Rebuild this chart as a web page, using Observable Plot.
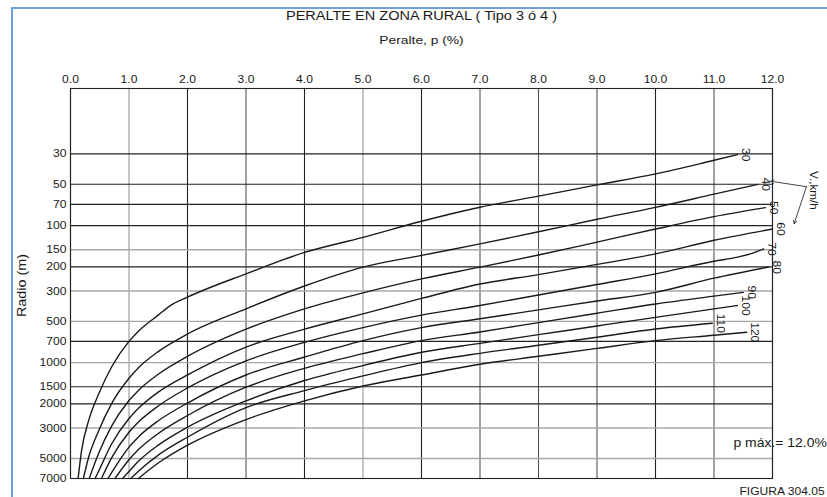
<!DOCTYPE html>
<html>
<head>
<meta charset="utf-8">
<script src="https://cdn.jsdelivr.net/npm/d3@7"></script>
<script src="https://cdn.jsdelivr.net/npm/@observablehq/plot@0.6"></script>
<style>
  body { margin: 0; background: #fff; font-family: "Liberation Sans", Arial, sans-serif; }
  #wrap { position: relative; width: 827px; height: 497px; overflow: hidden; background: #fff; }
  #wrap svg { position: absolute; left: 0; top: 0; }
  #edge { position: absolute; left: 11px; top: 7px; width: 900px; height: 600px;
          border-left: 2px solid #6f9fd6; border-top: 2px solid #6f9fd6; pointer-events: none; }
</style>
</head>
<body>
<div id="wrap"></div>
<script>
// Superelevation p (%) against curve radius R (m), one curve per design speed (km/h)
const speeds = [30, 40, 50, 60, 70, 80, 90, 100, 110, 120];

const v30 = [[0.13,7000],[0.19,4370],[0.31,2650],[0.48,1700],[0.7,1080],[1.0,700],[1.17,585],[1.5,450],[1.7,385],[2,333],[3,225],[4,157],[5,122],[6,93],[7,73.5],[8,61],[9,50.5],[10,42],[11,33.4],[11.4,30.4]];
const v40 = [[0.22,7000],[0.31,4900],[0.48,3150],[0.7,2000],[1,1300],[1.17,1080],[1.5,830],[2,618],[3,405],[4,276],[5,201],[6,165],[7,136],[8,111],[9,90],[10,73.6],[11,59],[11.75,50]];
const v50 = [[0.32,7000],[0.48,4600],[0.7,2920],[1,1890],[1.17,1580],[1.5,1215],[2,900],[3,570],[4,405],[5,310],[6,245],[7,201],[8,164],[9,132],[10,106],[11,86],[11.88,74]];
const v60 = [[0.42,7000],[0.48,6200],[0.7,3940],[1,2555],[1.17,2135],[1.5,1640],[2,1230],[3,770],[4,570],[5,441],[6,340],[7,267],[8,228],[9,192],[10,161],[11,128],[12,106]];
const v70 = [[0.53,7000],[0.7,4970],[1,3220],[1.17,2690],[1.5,2070],[2,1530],[3,970],[4,711],[5,555],[6,450],[7,383],[8,321],[9,269],[10,225],[11,182],[11.4,170],[11.62,161],[11.85,148]];
const v80 = [[0.64,7000],[0.7,6370],[1,4130],[1.17,3450],[1.5,2655],[2,1970],[3,1230],[4,910],[5,690],[6,555],[7,478],[8,412],[9,355],[10,307],[11,242],[11.93,201]];
const v90 = [[0.76,7000],[1,5110],[1.17,4270],[1.5,3285],[2,2430],[3,1510],[4,1100],[5,860],[6,690],[7,597],[8,510],[9,436],[10,373],[11,327],[11.5,307]];
const v100 = [[0.89,7000],[1,6230],[1.17,5200],[1.5,4000],[2,2960],[3,1900],[4,1350],[5,1050],[6,840],[7,723],[8,625],[9,540],[10,467],[11,405],[11.4,383]];
const v110 = [[1.03,7000],[1.17,6140],[1.5,4725],[2,3500],[3,2130],[4,1600],[5,1250],[6,1000],[7,855],[8,747],[9,652],[10,568],[10.97,516]];
const v120 = [[1.16,7000],[1.5,5400],[2,4000],[3,2600],[4,1900],[5,1480],[6,1230],[7,1027],[8,899],[9,787],[10,691],[11,631],[11.56,600]];

const curves = [v30, v40, v50, v60, v70, v80, v90, v100, v110, v120];

// Axis ticks
const pTicks = [0, 1, 2, 3, 4, 5, 6, 7, 8, 9, 10, 11, 12];
const rTicks = [30, 50, 70, 100, 150, 200, 300, 500, 700, 1000, 1500, 2000, 3000, 5000, 7000];

// Texts
const title = "PERALTE EN ZONA RURAL ( Tipo 3 ó 4 )";
const xTitle = "Peralte, p (%)";
const yTitle = "Radio (m)";
const pMaxNote = "p máx.= 12.0%";
const figureNote = "FIGURA 304.05";
const speedKeyText = "V.,km/h";

// Key pointing at the speed labels (p, R)
const speedKey = {p: 12.58, r: 52};
const speedKeyTargets = [{p: 11.97, r: 47.5}, {p: 12.37, r: 97}];

const rows = speeds.flatMap((v, i) => curves[i].map(([p, r]) => ({v, p, r})));
const ends = speeds.map((v, i) => {
  const c = curves[i];
  const [p, r] = c[c.length - 1];
  return {v, p, r};
});

const lightP = new Set([1, 5]);
const midP = new Set([3, 7, 8, 9, 11]);
const lightR = new Set([150, 300, 500, 1000, 3000, 5000]);

const ink = "#1a1a1a";
const centered = {textAnchor: "middle", lineAnchor: "middle", fill: ink};

const chart = Plot.plot({
  width: 827,
  height: 497,
  marginLeft: 70,
  marginRight: 55,
  marginTop: 88,
  marginBottom: 19,
  style: {fontFamily: "'Liberation Sans', Arial, sans-serif", fontSize: "11px", color: ink, background: "transparent", overflow: "visible"},
  x: {domain: [0, 12], axis: null},
  y: {type: "log", domain: [10, 7000], reverse: true, axis: null},
  marks: [
    Plot.ruleX(pTicks.filter(d => lightP.has(d)), {stroke: "#a0a0a0", strokeWidth: 1.2}),
    Plot.ruleX(pTicks.filter(d => midP.has(d)), {stroke: "#555", strokeWidth: 1.1}),
    Plot.ruleX(pTicks.filter(d => !lightP.has(d) && !midP.has(d)), {stroke: "#222", strokeWidth: 1.1}),
    Plot.ruleY(rTicks.filter(d => lightR.has(d)), {stroke: "#a8a8a8", strokeWidth: 1.4}),
    Plot.ruleY(rTicks.filter(d => !lightR.has(d)), {stroke: "#222", strokeWidth: 1.1}),
    Plot.frame({stroke: "#222", strokeWidth: 1.1}),
    // tick labels
    Plot.text(pTicks, {x: d => d, frameAnchor: "top", dy: -9, text: d => d.toFixed(1), ...centered}),
    Plot.text(rTicks, {y: d => d, frameAnchor: "left", dx: -4, text: d => String(d), ...centered, textAnchor: "end"}),
    // speed curves
    Plot.line(rows, {x: "p", y: "r", z: "v", stroke: ink, strokeWidth: 1.4, curve: "monotone-x"}),
    Plot.text(ends, {x: "p", y: "r", text: d => String(d.v), rotate: 90, dx: 8, fontSize: 11, ...centered}),
    Plot.arrow(speedKeyTargets, {x1: () => speedKey.p, y1: () => speedKey.r, x2: "p", y2: "r", stroke: "#333", strokeWidth: 0.9, headLength: 6}),
    Plot.text([speedKeyText], {frameAnchor: "top-right", dx: 41, dy: 102, rotate: 90, fontSize: 11, ...centered}),
    // titles and notes
    Plot.text([title], {frameAnchor: "top", dy: -72, fontSize: 12, ...centered}),
    Plot.text([xTitle], {frameAnchor: "top", dy: -48.5, fontSize: 11.5, ...centered}),
    Plot.text([yTitle], {frameAnchor: "left", dx: -48, dy: 2, rotate: -90, fontSize: 12, ...centered}),
    Plot.text([pMaxNote], {frameAnchor: "bottom-right", dx: -39, dy: -35, fontSize: 12, ...centered, textAnchor: "start"}),
    Plot.text([figureNote], {frameAnchor: "bottom-right", dx: -33, dy: 13, fontSize: 11.5, ...centered, textAnchor: "start"})
  ]
});

const wrap = document.getElementById("wrap");
wrap.appendChild(chart);
const edge = document.createElement("div");
edge.id = "edge";
wrap.appendChild(edge);

// The lettering is slightly wide: stretch each label along its baseline
const stretch = new Map([[title, 1.21], [xTitle, 1.2], [yTitle, 1.2], [pMaxNote, 1.16], [figureNote, 1.05], [speedKeyText, 1.07]]);
d3.select(chart).selectAll("text").each(function() {
  const t = this.textContent;
  const k = stretch.has(t) ? stretch.get(t) : 1.1;
  const len = this.getComputedTextLength();
  if (len > 0) {
    this.setAttribute("textLength", (len * k).toFixed(1));
    this.setAttribute("lengthAdjust", "spacingAndGlyphs");
  }
});
</script>
</body>
</html>
